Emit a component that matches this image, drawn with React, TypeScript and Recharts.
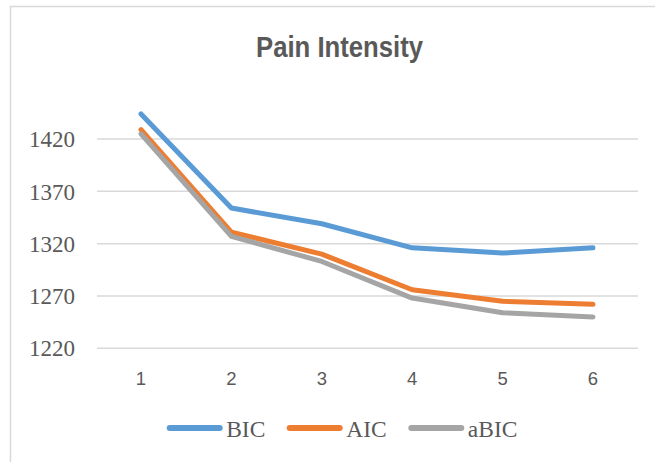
import React from 'react';
import { LineChart, Line, XAxis, YAxis, ReferenceLine } from 'recharts';

const categories = ['1', '2', '3', '4', '5', '6'];
const bicValues = [1444, 1354, 1339, 1316, 1311, 1316];
const aicValues = [1429, 1331, 1310, 1276, 1265, 1262];
const abicValues = [1425, 1327, 1303, 1268, 1254, 1250];
const yTicks = [1220, 1270, 1320, 1370, 1420];
const seriesNames = ['BIC', 'AIC', 'aBIC'];
const seriesColors = ['#5b9bd5', '#ed7d31', '#a5a5a5'];
const title = 'Pain Intensity';

const seriesValues = [bicValues, aicValues, abicValues];
const data = categories.map((c, i) => {
  const row: Record<string, string | number> = { x: c };
  seriesNames.forEach((n, s) => {
    row[n] = seriesValues[s][i];
  });
  return row;
});

const W = 655;
const H = 462;
const TEXT = '#595959';

// legend layout: start x of each item
const legendStarts = [166.7, 286.7, 408.3];
const legendY = 428;
const legendLine = 56;

export default function App() {
  return (
    <div style={{ position: 'absolute', left: 0, top: 0, width: W, height: H, background: '#fff' }}>
      <LineChart width={W} height={H} data={data} margin={{ top: 86.7, right: 17, bottom: 0, left: 0 }}>
        <XAxis
          dataKey="x"
          height={113.7}
          axisLine={false}
          tickLine={false}
          tickSize={0}
          tickMargin={24}
          padding={{ left: 44, right: 45 }}
          tick={{ fontFamily: 'Liberation Sans, Arial, sans-serif', fontSize: 18.5, fill: TEXT }}
        />
        <YAxis
          width={97}
          domain={[1220, 1470]}
          ticks={yTicks}
          axisLine={false}
          tickLine={false}
          tickSize={0}
          tickMargin={22}
          interval={0}
          tick={{ fontFamily: 'Liberation Serif, Times New Roman, serif', fontSize: 23, fill: TEXT }}
        />
        {yTicks.map((t) => (
          <ReferenceLine key={t} y={t} stroke="#d9d9d9" strokeWidth={1.5} ifOverflow="visible" />
        ))}
        {seriesNames.map((n, i) => (
          <Line
            key={n}
            type="linear"
            dataKey={n}
            stroke={seriesColors[i]}
            strokeWidth={5}
            strokeLinecap="round"
            strokeLinejoin="round"
            dot={false}
            activeDot={false}
            isAnimationActive={false}
          />
        ))}
      </LineChart>
      <svg
        width={W}
        height={H}
        style={{ position: 'absolute', left: 0, top: 0, pointerEvents: 'none' }}
      >
        <rect x={10.5} y={6.5} width={700} height={500} fill="none" stroke="#d9d9d9" strokeWidth={1.5} />
        <text
          x={339.5}
          y={56.7}
          textAnchor="middle"
          fontFamily="Liberation Sans, Arial, sans-serif"
          fontWeight="bold"
          fontSize={29}
          fill={TEXT}
          textLength={167}
          lengthAdjust="spacingAndGlyphs"
        >
          {title}
        </text>
        {seriesNames.map((n, i) => (
          <g key={n}>
            <line
              x1={legendStarts[i] + 3}
              x2={legendStarts[i] + legendLine - 3}
              y1={legendY}
              y2={legendY}
              stroke={seriesColors[i]}
              strokeWidth={6}
              strokeLinecap="round"
            />
            <text
              x={legendStarts[i] + legendLine + 3.5}
              y={436.7}
              fontFamily="Liberation Serif, Times New Roman, serif"
              fontSize={23.5}
              fill={TEXT}
            >
              {n}
            </text>
          </g>
        ))}
      </svg>
    </div>
  );
}
